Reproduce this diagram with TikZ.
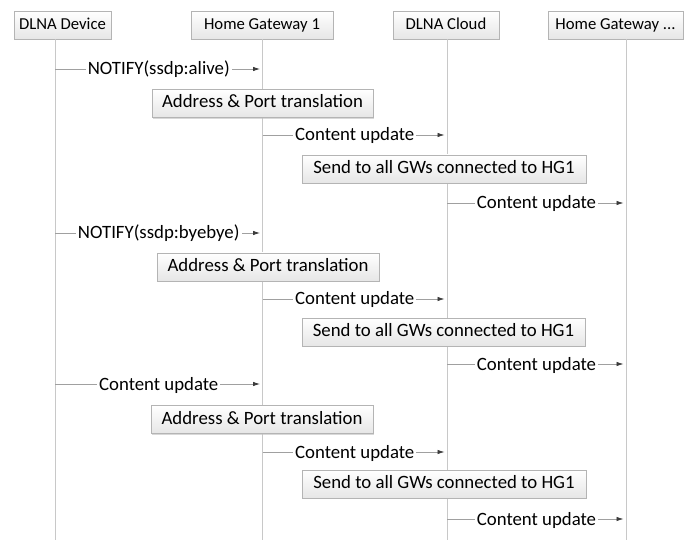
\documentclass[tikz,border=0pt]{standalone}
\usepackage{fontspec}
\setmainfont{Carlito}
\usetikzlibrary{arrows.meta,shadows}
\definecolor{lifecol}{HTML}{C8C8C8}
\definecolor{msgcol}{HTML}{A0A0A0}
\definecolor{tipcol}{HTML}{3C3C3C}
\definecolor{boxborder}{HTML}{B4B4B4}
\definecolor{boxbottom}{HTML}{E6E6E6}
\tikzset{
  headbox/.style={draw=boxborder, line width=0.8pt, top color=white, bottom color=boxbottom,
    minimum height=28pt, inner sep=0pt, text height=12pt, text depth=3pt,
    font=\fontsize{16.7}{20}\selectfont,
    drop shadow={shadow xshift=1.2pt, shadow yshift=-1.2pt, fill=black!25, opacity=0.6}},
  actbox/.style={headbox, font=\fontsize{18.8}{22}\selectfont, text height=13pt, text depth=4pt},
  lifeline/.style={draw=lifecol, line width=0.9pt},
  msg/.style={draw=msgcol, line width=0.8pt, shorten >=2.5pt,
    -{Latex[length=7pt,width=4.5pt,color=tipcol]}},
  lbl/.style={fill=white, inner xsep=2pt, inner ysep=0pt, text height=12pt, text depth=0pt,
    font=\fontsize{18.8}{22}\selectfont, anchor=center}
}
\begin{document}
\begin{tikzpicture}[x=1pt,y=-1pt]
\useasboundingbox (0,0) rectangle (691,540);
\fill[white] (0,0) rectangle (691,540);
% lifeline x positions
\coordinate (Ld) at (55,540);
\coordinate (Lh) at (262.5,540);
\coordinate (Lc) at (447,540);
\coordinate (Ln) at (626,540);
% header boxes
\node[headbox, minimum width=97pt]  (dd)    at (62.5,25)  {DLNA Device};
\node[headbox, minimum width=142pt] (hg1)   at (262,25)   {Home Gateway 1};
\node[headbox, minimum width=106pt] (cloud) at (446,25)   {DLNA Cloud};
\node[headbox, minimum width=135pt] (hgn)   at (615.5,25) {Home Gateway ...};
% lifelines
\draw[lifeline] (Ld |- dd.south) -- (Ld);
\draw[lifeline] (Lh |- hg1.south) -- (Lh);
\draw[lifeline] (Lc |- cloud.south) -- (Lc);
\draw[lifeline] (Ln |- hgn.south) -- (Ln);
% row coordinates
\coordinate (r1) at (0,69);
\coordinate (r2) at (0,135);
\coordinate (r3) at (0,203);
\coordinate (r4) at (0,233);
\coordinate (r5) at (0,299);
\coordinate (r6) at (0,364);
\coordinate (r7) at (0,384);
\coordinate (r8) at (0,452);
\coordinate (r9) at (0,519);
% activity boxes
\node[actbox, minimum width=221pt] (a1) at (262.5,103.5) {Address \& Port translation};
\node[actbox, minimum width=284pt] (s1) at (444,169)     {Send to all GWs connected to HG1};
\node[actbox, minimum width=222pt] (a2) at (268,267)     {Address \& Port translation};
\node[actbox, minimum width=283pt] (s2) at (443.5,332)   {Send to all GWs connected to HG1};
\node[actbox, minimum width=222pt] (a3) at (262,419.5)   {Address \& Port translation};
\node[actbox, minimum width=284pt] (s3) at (444,484)     {Send to all GWs connected to HG1};
% messages
\draw[msg] (Ld |- r1) -- (Lh |- r1) node[lbl, midway] (m1) {NOTIFY(ssdp:alive)};
\draw[msg] (Lh |- r2) -- (Lc |- r2) node[lbl, midway] (m2) {Content update};
\draw[msg] (Lc |- r3) -- (Ln |- r3) node[lbl, midway] (m3) {Content update};
\draw[msg] (Ld |- r4) -- (Lh |- r4) node[lbl, midway] (m4) {NOTIFY(ssdp:byebye)};
\draw[msg] (Lh |- r5) -- (Lc |- r5) node[lbl, midway] (m5) {Content update};
\draw[msg] (Lc |- r6) -- (Ln |- r6) node[lbl, midway] (m6) {Content update};
\draw[msg] (Ld |- r7) -- (Lh |- r7) node[lbl, midway] (m7) {Content update};
\draw[msg] (Lh |- r8) -- (Lc |- r8) node[lbl, midway] (m8) {Content update};
\draw[msg] (Lc |- r9) -- (Ln |- r9) node[lbl, midway] (m9) {Content update};
\end{tikzpicture}
\end{document}
